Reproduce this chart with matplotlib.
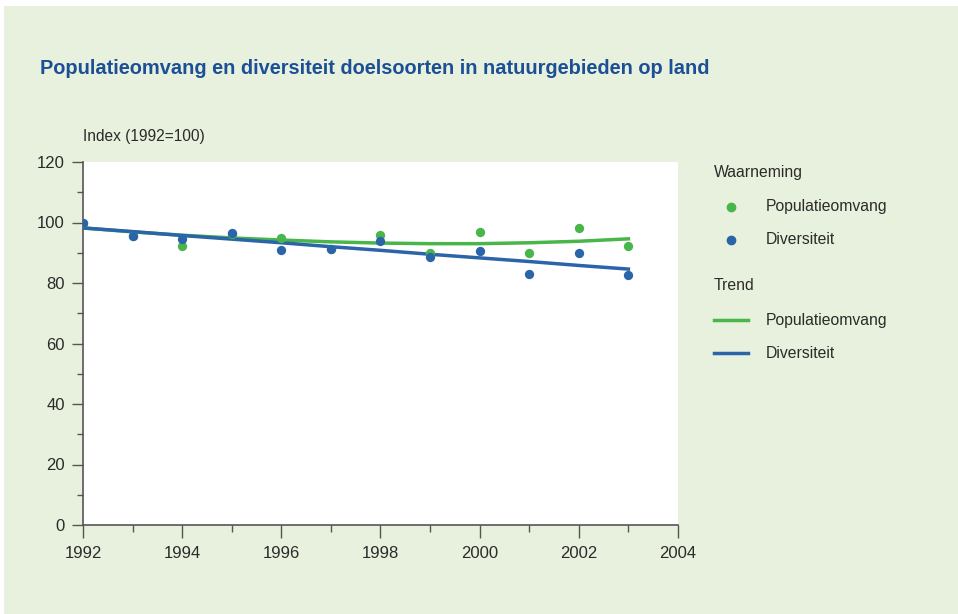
import matplotlib
matplotlib.use("Agg")
import matplotlib.pyplot as plt
from matplotlib.patches import Rectangle
from matplotlib.lines import Line2D

years = [1992, 1993, 1994, 1995, 1996, 1997, 1998, 1999, 2000, 2001, 2002, 2003]
pop_obs = [100.0, 95.5, 92.2, 96.3, 94.9, 91.2, 95.9, 89.9, 96.9, 89.9, 98.1, 92.3]
div_obs = [100.0, 95.5, 94.5, 96.5, 90.9, 91.2, 93.9, 88.5, 90.6, 83.0, 89.9, 82.6]
pop_trend = [98.2, 96.9, 95.8, 94.9, 94.2, 93.6, 93.2, 93.0, 93.0, 93.3, 93.8, 94.6]
div_trend = [98.2, 97.0, 95.7, 94.5, 93.3, 92.0, 90.8, 89.5, 88.3, 87.1, 85.8, 84.6]

title = "Populatieomvang en diversiteit doelsoorten in natuurgebieden op land"
ylabel = "Index (1992=100)"
xticks = [1992, 1994, 1996, 1998, 2000, 2002, 2004]
yticks = [0, 20, 40, 60, 80, 100, 120]

plt.rcParams["font.family"] = ["Liberation Sans"]

GREEN = "#48b649"
BLUE = "#2b64a9"
BG = "#e8f1dd"
TXT = "#2b2b2b"

W, H = 958, 614
fig = plt.figure(figsize=(W / 100, H / 100), dpi=100, facecolor="white")
fig.patches.append(Rectangle((4 / W, 0), 1 - 4 / W, 1 - 6 / H, transform=fig.transFigure,
                             facecolor=BG, edgecolor="none", zorder=-10))

ax = fig.add_axes([83 / W, 1 - 525 / H, (678 - 83) / W, (525 - 162) / H])
ax.set_facecolor("white")
ax.set_xlim(1992, 2004)
ax.set_ylim(0, 120)

ax.plot(years, pop_trend, color=GREEN, lw=2.5, zorder=2)
ax.plot(years, div_trend, color=BLUE, lw=2.5, zorder=3)
ax.scatter(years, pop_obs, s=45, color=GREEN, zorder=4, linewidths=0)
ax.scatter(years, div_obs, s=45, color=BLUE, zorder=4, linewidths=0)

for s in ["top", "right"]:
    ax.spines[s].set_visible(False)
for s in ["left", "bottom"]:
    ax.spines[s].set_color("#555555")
    ax.spines[s].set_linewidth(1.2)

ax.set_xticks(xticks)
ax.set_xticks(range(1992, 2005), minor=True)
ax.set_yticks(yticks)
ax.set_yticks(range(0, 121, 10), minor=True)
ax.tick_params(axis="both", which="both", direction="out", color="#555555", width=1)
ax.tick_params(axis="both", which="major", labelsize=12, labelcolor=TXT)
ax.tick_params(axis="y", which="major", length=8, pad=5)
ax.tick_params(axis="y", which="minor", length=4)
ax.tick_params(axis="x", which="major", length=9, pad=6)
ax.tick_params(axis="x", which="minor", length=5)

fig.text(40 / W, 1 - 68 / H, title, fontsize=14.4, fontweight="bold", color="#1c4f96",
         va="center", ha="left")
fig.text(83 / W, 1 - 137 / H, ylabel, fontsize=11.2, color=TXT, va="center", ha="left")

def ftxt(x, y, s):
    fig.text(x / W, 1 - y / H, s, fontsize=11.3, color=TXT, va="center", ha="left")

ftxt(714, 173, "Waarneming")
for yy, c, lab in [(207, GREEN, "Populatieomvang"), (240, BLUE, "Diversiteit")]:
    fig.add_artist(Line2D([731 / W], [1 - yy / H], marker="o", markersize=6, color=c,
                          linestyle="none", transform=fig.transFigure))
    ftxt(766, yy, lab)
ftxt(714, 286, "Trend")
for yy, c, lab in [(320, GREEN, "Populatieomvang"), (353, BLUE, "Diversiteit")]:
    fig.add_artist(Line2D([714 / W, 748 / W], [1 - yy / H, 1 - yy / H], lw=2.5, color=c,
                          transform=fig.transFigure))
    ftxt(766, yy, lab)

fig.savefig("out.png", dpi=100, facecolor=fig.get_facecolor())
